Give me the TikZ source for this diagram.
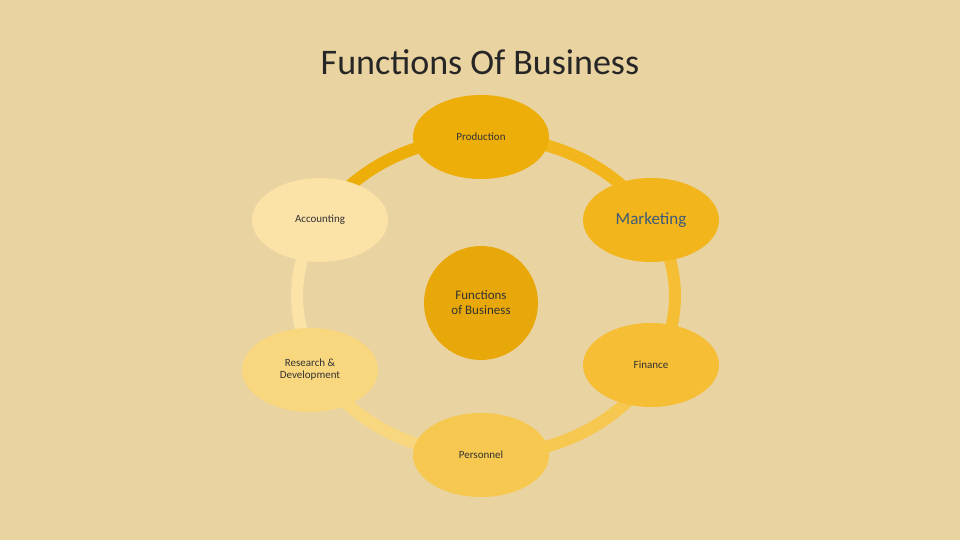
\documentclass[tikz,border=0pt]{standalone}
\usepackage{fontspec}
\setmainfont{Carlito}
\usetikzlibrary{shapes.geometric}
\definecolor{bg}{HTML}{E9D3A0}
\definecolor{c1}{HTML}{EEAE0A}
\definecolor{c2}{HTML}{F2B51C}
\definecolor{c3}{HTML}{F5BE35}
\definecolor{c4}{HTML}{F7C850}
\definecolor{c5}{HTML}{F9D77E}
\definecolor{c6}{HTML}{FBE3A8}
\definecolor{cc}{HTML}{E9A80A}
\definecolor{txt}{HTML}{333333}
\definecolor{mk}{HTML}{3D5A78}
\begin{document}
\begin{tikzpicture}[x=1pt,y=1pt,
  bub/.style={ellipse,minimum width=136pt,minimum height=84pt,inner sep=0pt,align=center,font=\fontsize{11}{12}\selectfont,text=txt},
  ringseg/.style={line width=12pt}]
\fill[bg] (0,0) rectangle (960,540);
\useasboundingbox (0,0) rectangle (960,540);
\node[font=\fontsize{36}{40}\selectfont,text=black!85] (title) at (480,478) {Functions Of Business};
\coordinate (c) at (486,244);
\foreach \a/\b/\col in {90/28/c2, 28/-28/c3, -28/-90/c4, -90/-152/c5, -152/-208/c6, -208/-270/c1}{
  \draw[ringseg,\col] (c) ++(\a:189 and 159) arc[start angle=\a,end angle=\b,x radius=189,y radius=159];
}
\node[bub,fill=c1] (prod) at (481,403) {Production};
\node[bub,fill=c2,font=\fontsize{17}{20}\selectfont,text=mk] (mkt) at (651,320) {Marketing};
\node[bub,fill=c3] (fin) at (651,175) {Finance};
\node[bub,fill=c4] (pers) at (481,85) {Personnel};
\node[bub,fill=c5] (rd) at (310,170) {Research \&\\Development};
\node[bub,fill=c6] (acc) at (320,320) {Accounting};
\node[circle,minimum size=114pt,fill=cc,align=center,font=\fontsize{13}{15}\selectfont,text=txt] (ctr) at (481,237) {Functions\\of Business};
\end{tikzpicture}
\end{document}
